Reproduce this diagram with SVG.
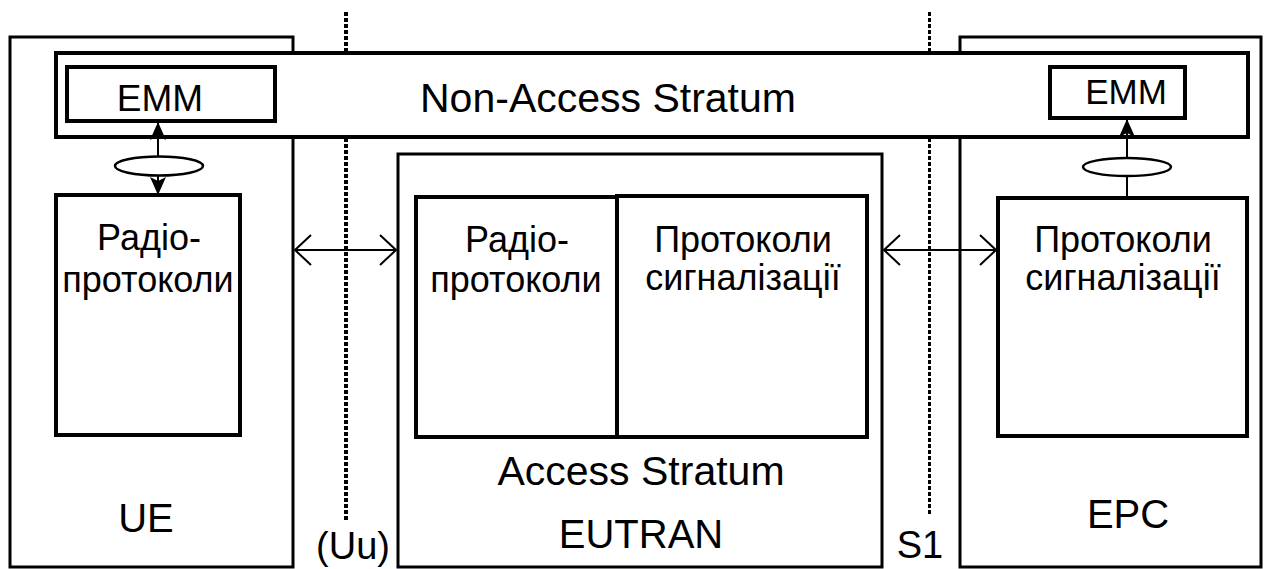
<svg xmlns="http://www.w3.org/2000/svg" width="1268" height="569" viewBox="0 0 1268 569">
  <style>
    .outer { fill: #fff; stroke: #000; stroke-width: 3; }
    .inner { fill: #fff; stroke: #000; stroke-width: 4; }
    .dots { stroke: #000; fill: none; stroke-dasharray: 4 2; }
    .link { stroke: #000; stroke-width: 2; fill: none; }
    .ring { fill: #fff; stroke: #000; stroke-width: 2.5; }
    text { font-family: "Liberation Sans", Arial, sans-serif; fill: #000; text-anchor: middle; }
  </style>
  <defs>
    <marker id="solid" viewBox="0 0 18 16" refX="17" refY="8" markerWidth="18" markerHeight="16" markerUnits="userSpaceOnUse" orient="auto-start-reverse">
      <path d="M0,0 L18,8 L0,16 L4,8 z" fill="#000"/>
    </marker>
    <marker id="open" viewBox="0 0 18 32" refX="17" refY="16" markerWidth="18" markerHeight="32" markerUnits="userSpaceOnUse" orient="auto-start-reverse">
      <path d="M1,1 L17,16 L1,31" fill="none" stroke="#000" stroke-width="2"/>
    </marker>
  </defs>

  <rect width="1268" height="569" fill="#fff"/>

  <!-- terminal side -->
  <g id="ue">
    <rect class="outer" x="10" y="37" width="283" height="530"/>
    <text x="146" y="532" font-size="40">UE</text>
  </g>

  <!-- core side -->
  <g id="epc">
    <rect class="outer" x="960" y="37" width="301" height="530"/>
    <text x="1128" y="528" font-size="40">EPC</text>
  </g>

  <!-- radio access network -->
  <g id="eutran">
    <rect class="outer" x="398" y="154" width="484" height="413"/>
    <text x="641" y="485" font-size="41">Access Stratum</text>
    <text x="641" y="548" font-size="40">EUTRAN</text>
  </g>

  <!-- reference points -->
  <g id="interfaces">
    <line class="dots" x1="346" y1="12" x2="346" y2="520" stroke-width="4"/>
    <line class="dots" x1="929.5" y1="12" x2="929.5" y2="516" stroke-width="3"/>
    <text x="353" y="559" font-size="38">(Uu)</text>
    <text x="920" y="558" font-size="38">S1</text>
  </g>

  <!-- non-access stratum band -->
  <g id="nas">
    <rect class="inner" x="56" y="53" width="1192" height="84"/>
    <text x="608" y="112" font-size="41">Non-Access Stratum</text>
  </g>

  <g id="ue-emm">
    <rect class="inner" x="67" y="67" width="208" height="54"/>
    <text x="160" y="111" font-size="37">EMM</text>
  </g>

  <g id="epc-emm">
    <rect class="inner" x="1050" y="67" width="135" height="51"/>
    <text x="1126" y="104" font-size="35">EMM</text>
  </g>

  <g id="ue-radio">
    <rect class="inner" x="56" y="195" width="184" height="240"/>
    <text x="149" y="250" font-size="36">Радіо-</text>
    <text x="148" y="292" font-size="36">протоколи</text>
  </g>

  <g id="eutran-radio">
    <rect class="inner" x="416" y="197" width="201" height="240"/>
    <text x="517" y="252" font-size="36">Радіо-</text>
    <text x="516" y="292" font-size="36">протоколи</text>
  </g>

  <g id="eutran-signalling">
    <rect class="inner" x="617" y="196" width="250" height="241"/>
    <text x="743" y="252" font-size="36">Протоколи</text>
    <text x="743" y="290" font-size="36">сигналізації</text>
  </g>

  <g id="epc-signalling">
    <rect class="inner" x="998" y="198" width="249" height="238"/>
    <text x="1123" y="252" font-size="36">Протоколи</text>
    <text x="1123" y="290" font-size="36">сигналізації</text>
  </g>

  <g id="connectors">
    <line class="link" x1="158" y1="123" x2="158" y2="194" marker-start="url(#solid)" marker-end="url(#solid)"/>
    <ellipse class="ring" cx="159" cy="166" rx="44" ry="9.5"/>
    <line class="link" x1="1127" y1="197" x2="1127" y2="120" marker-end="url(#solid)"/>
    <ellipse class="ring" cx="1127" cy="167" rx="44" ry="9"/>
    <line class="link" x1="295" y1="250" x2="396" y2="250" marker-start="url(#open)" marker-end="url(#open)"/>
    <line class="link" x1="884" y1="250" x2="996" y2="250" marker-start="url(#open)" marker-end="url(#open)"/>
  </g>
</svg>
